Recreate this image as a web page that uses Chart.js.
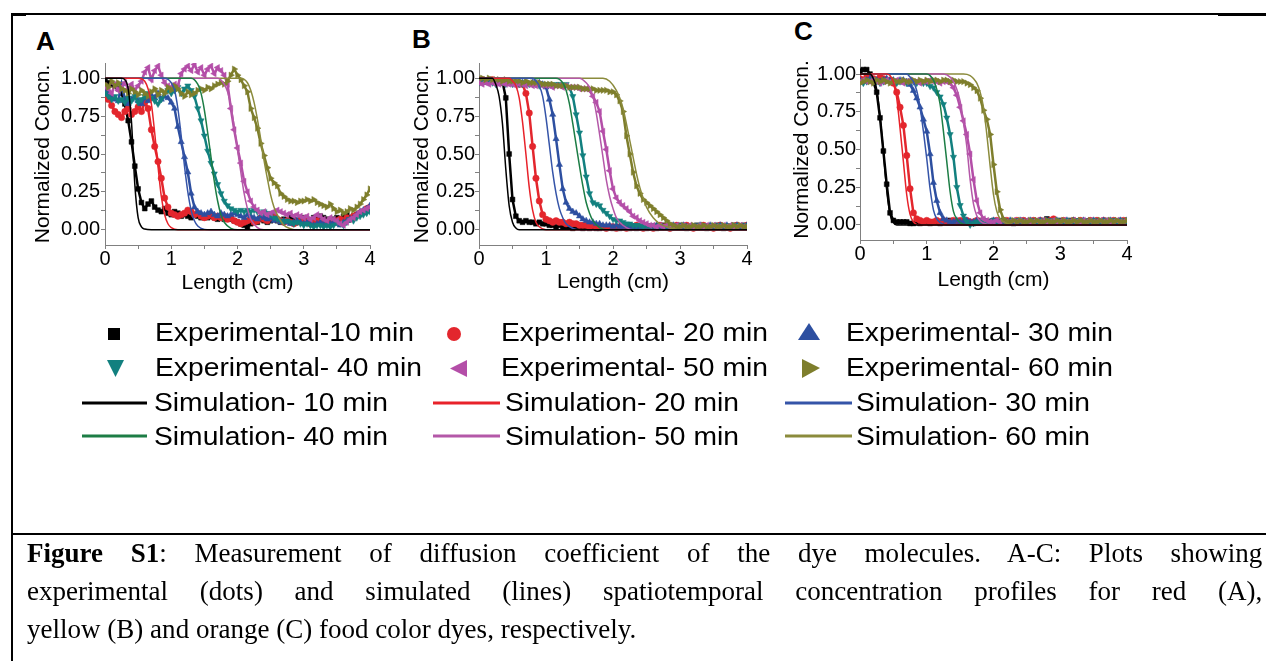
<!DOCTYPE html>
<html>
<head>
<meta charset="utf-8">
<script src="https://cdn.jsdelivr.net/npm/chart.js@4.4.1/dist/chart.umd.min.js"></script>
<style>
  html, body { margin: 0; padding: 0; background: #fff; }
  body { width: 1266px; height: 661px; position: relative; overflow: hidden; font-family: 'Liberation Sans', Arial, sans-serif; }
  canvas { position: absolute; }
  .linea { position: absolute; background: #000; }
  .panel { position: absolute; font-weight: bold; font-size: 26px; line-height: 1; }
  .leg { position: absolute; font-size: 25px; line-height: 1; white-space: nowrap; transform: scaleX(1.13); transform-origin: 0 0; }
  #caption { position: absolute; left: 27px; top: 534px; width: 1211px; font-family: 'Liberation Serif', 'Times New Roman', serif; font-size: 26.5px; line-height: 38px; transform: scaleX(1.02); transform-origin: 0 0; }
  #caption .j { text-align: justify; text-align-last: justify; }
  svg { position: absolute; left: 0; top: 0; }
</style>
</head>
<body>
<div class="linea" style="left:12px;top:13px;width:1254px;height:2px"></div>
<div class="linea" style="left:12px;top:13px;width:14px;height:3px"></div>
<div class="linea" style="left:1218px;top:14px;width:48px;height:2px"></div>
<div class="linea" style="left:11px;top:13px;width:2px;height:648px"></div>
<div class="linea" style="left:12px;top:533px;width:1254px;height:2px"></div>

<div class="panel" style="left:36px;top:28px">A</div>
<div class="panel" style="left:412px;top:26px">B</div>
<div class="panel" style="left:794px;top:18px">C</div>

<canvas id="chartA" width="365" height="280" style="left:20px;top:20px"></canvas>
<canvas id="chartB" width="362" height="280" style="left:400px;top:20px"></canvas>
<canvas id="chartC" width="362" height="280" style="left:780px;top:16px"></canvas>

<svg id="simbolos" width="1266" height="661"></svg>
<div id="leyenda"></div>

<div id="caption">
  <div class="j"><b>Figure S1</b>: Measurement of diffusion coefficient of the dye molecules. A-C: Plots showing</div>
  <div class="j">experimental (dots) and simulated (lines) spatiotemporal concentration profiles for red (A),</div>
  <div>yellow (B) and orange (C) food color dyes, respectively.</div>
</div>

<script>
// Posiciones (cm) donde se leyeron los puntos experimentales
const lengthCm = [0,0.05,0.1,0.15,0.2,0.25,0.3,0.35,0.4,0.45,
  0.5,0.55,0.6,0.65,0.7,0.75,0.8,0.85,0.9,0.95,
  1,1.05,1.1,1.15,1.2,1.25,1.3,1.35,1.4,1.45,
  1.5,1.55,1.6,1.65,1.7,1.75,1.8,1.85,1.9,1.95,
  2,2.05,2.1,2.15,2.2,2.25,2.3,2.35,2.4,2.45,
  2.5,2.55,2.6,2.65,2.7,2.75,2.8,2.85,2.9,2.95,
  3,3.05,3.1,3.15,3.2,3.25,3.3,3.35,3.4,3.45,
  3.5,3.55,3.6,3.65,3.7,3.75,3.8,3.85,3.9,3.95,
  4];

// marcas de los ejes
const xTicks = [0, 0.5, 1, 1.5, 2, 2.5, 3, 3.5, 4];
const yTicks = [0, 0.125, 0.25, 0.375, 0.5, 0.625, 0.75, 0.875, 1];

const expLabels = ['Experimental-10 min', 'Experimental- 20 min', 'Experimental- 30 min',
  'Experimental- 40 min', 'Experimental- 50 min', 'Experimental- 60 min'];
const simLabels = ['Simulation- 10 min', 'Simulation- 20 min', 'Simulation- 30 min',
  'Simulation- 40 min', 'Simulation- 50 min', 'Simulation- 60 min'];

// ---- A: colorante rojo ----
const expA10 = [0.98,0.97,0.96,0.95,0.93,0.90,0.83,0.72,0.58,0.42,
  0.27,0.18,0.14,0.17,0.19,0.15,0.13,0.12,0.14,0.11,
  0.10,0.12,0.11,0.09,0.10,0.09,0.08,0.10,0.09,0.08,
  0.09,0.08,0.09,0.08,0.07,0.08,0.07,0.08,0.07,0.06,
  0.05,0.04,0.03,0.02,0.04,0.06,0.05,0.07,0.06,0.05,
  0.06,0.07,0.06,0.05,0.07,0.06,0.08,0.07,0.06,0.07,
  0.08,0.07,0.06,0.08,0.07,0.09,0.08,0.07,0.06,0.07,
  0.08,0.07,0.09,0.10,0.08,0.09,0.10,0.11,0.12,0.13,
  0.14];
const expA20 = [0.88,0.86,0.82,0.78,0.76,0.74,0.78,0.80,0.76,0.78,
  0.81,0.78,0.84,0.80,0.66,0.55,0.45,0.34,0.21,0.15,
  0.11,0.10,0.09,0.10,0.11,0.13,0.12,0.10,0.11,0.09,
  0.08,0.09,0.10,0.08,0.09,0.08,0.09,0.07,0.08,0.06,
  0.05,0.04,0.05,0.06,0.07,0.05,0.06,0.08,0.07,0.06,
  0.08,0.09,0.07,0.06,0.05,0.06,0.05,0.04,0.05,0.06,
  0.05,0.06,0.04,0.05,0.06,0.05,0.04,0.05,0.06,0.05,
  0.06,0.07,0.06,0.08,0.07,0.09,0.10,0.11,0.12,0.14,
  0.15];
const expA30 = [0.92,0.90,0.88,0.86,0.85,0.96,0.86,0.83,0.86,0.88,
  0.85,0.83,0.87,0.85,0.89,0.87,0.90,0.86,0.88,0.87,
  0.84,0.80,0.68,0.58,0.48,0.38,0.24,0.15,0.12,0.11,
  0.10,0.11,0.12,0.10,0.09,0.11,0.10,0.09,0.10,0.11,
  0.10,0.09,0.08,0.10,0.09,0.08,0.07,0.09,0.08,0.07,
  0.08,0.06,0.07,0.05,0.06,0.05,0.04,0.05,0.06,0.05,
  0.04,0.05,0.04,0.03,0.04,0.05,0.04,0.03,0.04,0.05,
  0.04,0.03,0.05,0.06,0.07,0.08,0.10,0.12,0.13,0.14,
  0.16];
const expA40 = [0.90,0.88,0.86,0.88,0.85,0.86,0.84,0.87,0.85,0.88,
  0.84,0.86,0.88,0.90,0.87,0.85,0.83,0.86,0.90,0.92,
  0.90,0.92,0.94,0.90,0.93,0.95,0.92,0.88,0.80,0.72,
  0.62,0.52,0.44,0.37,0.30,0.24,0.19,0.16,0.14,0.13,
  0.12,0.13,0.12,0.13,0.12,0.13,0.12,0.11,0.12,0.11,
  0.10,0.08,0.07,0.06,0.05,0.06,0.05,0.04,0.05,0.04,
  0.03,0.04,0.03,0.02,0.03,0.03,0.02,0.03,0.02,0.03,
  0.05,0.04,0.03,0.05,0.07,0.06,0.08,0.09,0.10,0.11,
  0.12];
const expA50 = [0.95,0.93,0.90,0.96,0.92,0.94,0.97,0.93,0.96,0.92,
  0.95,0.98,1.04,1.07,0.99,1.05,1.08,1.02,0.97,0.95,
  0.94,0.96,0.95,1.03,1.06,1.08,1.05,1.09,1.04,1.07,
  1.02,1.06,1.08,1.03,1.07,1.05,1.02,0.96,0.80,0.66,
  0.54,0.44,0.32,0.25,0.19,0.15,0.13,0.11,0.12,0.10,
  0.11,0.12,0.13,0.12,0.11,0.10,0.11,0.09,0.10,0.09,
  0.08,0.09,0.07,0.08,0.10,0.09,0.07,0.06,0.08,0.07,
  0.06,0.04,0.03,0.05,0.07,0.08,0.10,0.12,0.13,0.14,
  0.15];
const expA60 = [0.96,0.94,0.98,0.95,0.97,0.93,0.92,0.90,0.93,0.91,
  0.89,0.92,0.90,0.88,0.91,0.93,0.89,0.92,0.90,0.94,
  0.92,0.95,0.93,0.90,0.88,0.91,0.89,0.90,0.92,0.93,
  0.92,0.94,0.93,0.95,0.96,0.97,0.96,0.98,1.02,1.06,
  1.02,0.99,0.95,0.91,0.80,0.74,0.67,0.57,0.49,0.41,
  0.34,0.31,0.29,0.24,0.22,0.20,0.19,0.19,0.18,0.19,
  0.19,0.20,0.19,0.20,0.18,0.17,0.16,0.15,0.17,0.14,
  0.12,0.13,0.11,0.12,0.14,0.13,0.15,0.17,0.20,0.23,
  0.27];

// curvas simuladas A: pares [cm, conc]
const simA10 = [[0,1],[0.25,1],[0.3,0.99],[0.35,0.93],[0.4,0.71],[0.45,0.3],[0.5,0.08],[0.55,0.02],[0.6,0.005],[0.7,0],[4,0]];
const simA20 = [[0,1],[0.5,1],[0.6,0.98],[0.65,0.93],[0.7,0.83],[0.75,0.64],[0.8,0.42],[0.85,0.22],[0.9,0.1],[0.95,0.04],[1,0.015],[1.1,0],[4,0]];
const simA30 = [[0,1],[0.9,1],[1,0.97],[1.05,0.92],[1.1,0.8],[1.15,0.62],[1.2,0.42],[1.25,0.25],[1.3,0.13],[1.35,0.06],[1.4,0.025],[1.5,0.003],[1.6,0],[4,0]];
const simA40 = [[0,1],[1.3,1],[1.4,0.96],[1.45,0.9],[1.5,0.79],[1.55,0.64],[1.6,0.48],[1.65,0.32],[1.7,0.19],[1.75,0.1],[1.8,0.05],[1.9,0.01],[2,0],[4,0]];
const simA50 = [[0,1],[1.7,1],[1.8,0.96],[1.85,0.91],[1.9,0.82],[1.95,0.68],[2,0.53],[2.05,0.38],[2.1,0.24],[2.15,0.14],[2.2,0.07],[2.3,0.015],[2.4,0],[4,0]];
const simA60 = [[0,1],[2.05,1],[2.15,0.97],[2.2,0.92],[2.25,0.84],[2.3,0.73],[2.35,0.6],[2.4,0.46],[2.45,0.34],[2.5,0.23],[2.55,0.15],[2.6,0.1],[2.7,0.03],[2.8,0.008],[2.9,0],[4,0]];

// ---- B: colorante amarillo ----
const expB10 = [0.99,0.99,0.98,0.99,0.98,0.98,0.97,0.98,0.87,0.50,
  0.20,0.09,0.06,0.05,0.06,0.05,0.05,0.04,0.05,0.04,
  0.04,0.03,0.03,0.02,0.03,0.02,0.02,0.02,0.01,0.02,
  0.02,0.01,0.02,0.01,0.02,0.01,0.01,0.02,0.01,0.02,
  0.01,0.02,0.01,0.02,0.02,0.01,0.02,0.01,0.02,0.02,
  0.01,0.02,0.02,0.01,0.02,0.03,0.02,0.01,0.02,0.02,
  0.03,0.02,0.01,0.02,0.02,0.03,0.02,0.02,0.01,0.02,
  0.02,0.03,0.02,0.01,0.02,0.02,0.03,0.02,0.02,0.03,
  0.02];
const expB20 = [0.98,0.99,0.98,0.98,0.99,0.98,0.98,0.97,0.98,0.97,
  0.97,0.97,0.96,0.96,0.90,0.77,0.55,0.34,0.19,0.10,
  0.07,0.06,0.05,0.06,0.05,0.05,0.04,0.05,0.04,0.04,
  0.03,0.03,0.03,0.02,0.03,0.02,0.02,0.02,0.01,0.02,
  0.02,0.01,0.02,0.02,0.01,0.02,0.02,0.03,0.02,0.01,
  0.02,0.02,0.01,0.02,0.03,0.02,0.02,0.01,0.02,0.03,
  0.02,0.02,0.03,0.02,0.01,0.02,0.02,0.03,0.02,0.02,
  0.01,0.02,0.03,0.02,0.02,0.01,0.02,0.03,0.02,0.02,
  0.03];
const expB30 = [0.98,0.98,0.97,0.98,0.98,0.97,0.98,0.97,0.97,0.98,
  0.97,0.97,0.98,0.97,0.97,0.96,0.97,0.97,0.97,0.96,
  0.94,0.86,0.76,0.60,0.43,0.27,0.18,0.14,0.12,0.11,
  0.09,0.07,0.06,0.05,0.05,0.04,0.04,0.03,0.03,0.03,
  0.02,0.03,0.02,0.02,0.03,0.02,0.02,0.01,0.02,0.02,
  0.03,0.02,0.02,0.03,0.02,0.01,0.02,0.02,0.03,0.02,
  0.02,0.03,0.02,0.02,0.01,0.02,0.03,0.02,0.02,0.03,
  0.02,0.02,0.03,0.02,0.03,0.02,0.02,0.03,0.02,0.02,
  0.03];
const expB40 = [0.97,0.97,0.98,0.97,0.97,0.96,0.97,0.97,0.96,0.97,
  0.96,0.97,0.96,0.96,0.97,0.96,0.96,0.96,0.95,0.96,
  0.96,0.96,0.95,0.96,0.96,0.95,0.96,0.94,0.88,0.76,
  0.64,0.49,0.35,0.24,0.18,0.17,0.16,0.13,0.11,0.09,
  0.07,0.06,0.06,0.05,0.04,0.04,0.03,0.03,0.03,0.02,
  0.03,0.02,0.03,0.02,0.03,0.02,0.02,0.03,0.02,0.03,
  0.02,0.03,0.02,0.02,0.03,0.02,0.03,0.03,0.02,0.02,
  0.03,0.02,0.03,0.03,0.02,0.03,0.02,0.03,0.03,0.02,
  0.03];
const expB50 = [0.97,0.96,0.97,0.96,0.97,0.96,0.96,0.97,0.96,0.96,
  0.96,0.95,0.96,0.96,0.95,0.96,0.95,0.95,0.96,0.95,
  0.95,0.95,0.94,0.95,0.95,0.94,0.95,0.94,0.94,0.94,
  0.93,0.93,0.93,0.92,0.88,0.84,0.78,0.65,0.53,0.39,
  0.27,0.21,0.18,0.16,0.14,0.12,0.09,0.08,0.06,0.05,
  0.04,0.03,0.03,0.02,0.03,0.02,0.03,0.02,0.02,0.03,
  0.02,0.03,0.02,0.03,0.02,0.02,0.03,0.02,0.03,0.02,
  0.03,0.02,0.02,0.03,0.02,0.03,0.02,0.02,0.03,0.02,
  0.02];
const expB60 = [1.00,1.00,0.99,1.00,0.99,0.99,0.99,0.98,0.99,0.98,
  0.98,0.98,0.98,0.97,0.98,0.97,0.97,0.97,0.97,0.96,
  0.96,0.96,0.96,0.95,0.95,0.95,0.95,0.94,0.94,0.94,
  0.94,0.93,0.93,0.93,0.93,0.92,0.92,0.92,0.92,0.91,
  0.91,0.89,0.85,0.78,0.62,0.50,0.38,0.29,0.24,0.20,
  0.18,0.16,0.14,0.12,0.10,0.08,0.06,0.04,0.03,0.02,
  0.02,0.03,0.02,0.02,0.03,0.02,0.02,0.03,0.02,0.02,
  0.03,0.02,0.02,0.03,0.02,0.02,0.03,0.02,0.03,0.02,
  0.02];

const simB10 = [[0,1],[0.2,1],[0.25,0.96],[0.3,0.88],[0.35,0.7],[0.4,0.4],[0.45,0.16],[0.5,0.05],[0.55,0.012],[0.6,0],[4,0]];
const simB20 = [[0,1],[0.45,1],[0.5,0.98],[0.55,0.95],[0.6,0.87],[0.65,0.71],[0.7,0.5],[0.75,0.28],[0.8,0.13],[0.85,0.05],[0.9,0.02],[1,0],[4,0]];
const simB30 = [[0,1],[0.8,1],[0.85,0.98],[0.9,0.95],[0.95,0.88],[1,0.74],[1.05,0.56],[1.1,0.38],[1.15,0.24],[1.2,0.14],[1.25,0.08],[1.3,0.04],[1.4,0.01],[1.5,0],[4,0]];
const simB40 = [[0,1],[1.15,1],[1.25,0.97],[1.3,0.92],[1.35,0.83],[1.4,0.7],[1.45,0.56],[1.5,0.42],[1.55,0.29],[1.6,0.18],[1.65,0.11],[1.7,0.06],[1.8,0.015],[1.9,0],[4,0]];
const simB50 = [[0,1],[1.5,1],[1.6,0.97],[1.65,0.94],[1.7,0.88],[1.75,0.77],[1.8,0.63],[1.85,0.48],[1.9,0.33],[1.95,0.22],[2,0.14],[2.05,0.08],[2.1,0.05],[2.2,0.015],[2.3,0],[4,0]];
const simB60 = [[0,1],[1.85,1],[1.95,0.98],[2.05,0.92],[2.1,0.87],[2.15,0.8],[2.2,0.7],[2.25,0.59],[2.3,0.48],[2.35,0.37],[2.4,0.28],[2.45,0.21],[2.5,0.15],[2.6,0.08],[2.7,0.04],[2.8,0.02],[3,0],[4,0]];

// ---- C: colorante naranja ----
const expC10 = [1.02,1.03,1.03,1.00,0.95,0.88,0.71,0.49,0.27,0.08,
  0.03,0.02,0.02,0.02,0.02,0.01,0.01,0.02,0.01,0.02,
  0.02,0.01,0.02,0.02,0.01,0.02,0.02,0.03,0.02,0.02,
  0.02,0.03,0.02,0.02,0.01,0.02,0.03,0.02,0.02,0.02,
  0.03,0.02,0.02,0.03,0.02,0.02,0.01,0.02,0.02,0.03,
  0.02,0.02,0.03,0.02,0.02,0.03,0.04,0.03,0.02,0.02,
  0.03,0.02,0.02,0.03,0.02,0.02,0.03,0.02,0.02,0.03,
  0.02,0.03,0.02,0.02,0.03,0.02,0.03,0.02,0.03,0.02,
  0.03];
const expC20 = [0.97,0.96,0.98,0.97,0.97,0.96,0.98,0.97,0.96,0.96,
  0.94,0.88,0.78,0.66,0.46,0.24,0.08,0.04,0.03,0.02,
  0.03,0.02,0.02,0.03,0.02,0.03,0.02,0.02,0.03,0.02,
  0.03,0.02,0.03,0.02,0.02,0.03,0.02,0.03,0.02,0.02,
  0.02,0.03,0.02,0.02,0.03,0.02,0.02,0.03,0.02,0.03,
  0.02,0.02,0.03,0.02,0.03,0.02,0.02,0.03,0.04,0.02,
  0.02,0.03,0.02,0.02,0.03,0.02,0.03,0.02,0.02,0.03,
  0.02,0.03,0.02,0.03,0.02,0.02,0.03,0.02,0.02,0.03,
  0.02];
const expC30 = [0.96,0.95,0.96,0.97,0.96,0.96,0.95,0.96,0.97,0.96,
  0.96,0.95,0.96,0.96,0.95,0.93,0.89,0.84,0.78,0.70,
  0.62,0.47,0.28,0.16,0.08,0.04,0.03,0.02,0.02,0.03,
  0.02,0.02,0.03,0.02,0.02,0.03,0.02,0.03,0.02,0.02,
  0.03,0.02,0.02,0.03,0.02,0.03,0.02,0.02,0.03,0.02,
  0.02,0.03,0.02,0.02,0.03,0.02,0.03,0.02,0.02,0.03,
  0.02,0.02,0.03,0.02,0.03,0.02,0.02,0.03,0.02,0.02,
  0.03,0.02,0.02,0.03,0.02,0.03,0.02,0.02,0.03,0.02,
  0.03];
const expC40 = [0.95,0.94,0.95,0.96,0.95,0.95,0.94,0.95,0.96,0.95,
  0.95,0.94,0.95,0.95,0.94,0.95,0.95,0.94,0.95,0.94,
  0.94,0.92,0.91,0.88,0.85,0.80,0.71,0.60,0.45,0.25,
  0.13,0.06,0.02,0.00,0.01,0.02,0.02,0.03,0.02,0.02,
  0.03,0.02,0.02,0.03,0.02,0.02,0.03,0.02,0.03,0.02,
  0.02,0.03,0.02,0.02,0.03,0.02,0.02,0.03,0.02,0.03,
  0.02,0.02,0.03,0.02,0.02,0.03,0.02,0.03,0.02,0.02,
  0.03,0.02,0.02,0.03,0.02,0.02,0.03,0.02,0.03,0.02,
  0.02];
const expC50 = [0.95,0.96,0.95,0.95,0.96,0.95,0.94,0.95,0.96,0.95,
  0.95,0.96,0.95,0.94,0.95,0.96,0.95,0.95,0.94,0.95,
  0.95,0.96,0.95,0.95,0.94,0.95,0.95,0.94,0.91,0.86,
  0.78,0.69,0.60,0.47,0.30,0.16,0.08,0.04,0.03,0.02,
  0.02,0.03,0.02,0.03,0.02,0.02,0.03,0.02,0.03,0.02,
  0.03,0.02,0.02,0.03,0.02,0.03,0.02,0.02,0.03,0.02,
  0.02,0.03,0.02,0.02,0.03,0.02,0.02,0.03,0.02,0.03,
  0.02,0.02,0.03,0.02,0.03,0.02,0.02,0.03,0.02,0.02,
  0.03];
const expC60 = [0.94,0.95,0.96,0.95,0.94,0.96,0.95,0.96,0.95,0.94,
  0.96,0.95,0.95,0.96,0.95,0.95,0.96,0.95,0.96,0.95,
  0.96,0.95,0.96,0.96,0.95,0.96,0.96,0.95,0.96,0.95,
  0.95,0.95,0.94,0.93,0.91,0.89,0.84,0.76,0.70,0.60,
  0.40,0.22,0.10,0.04,0.02,0.02,0.03,0.02,0.03,0.02,
  0.02,0.03,0.02,0.03,0.02,0.02,0.03,0.02,0.02,0.03,
  0.02,0.03,0.02,0.02,0.03,0.02,0.03,0.02,0.02,0.03,
  0.02,0.02,0.03,0.02,0.02,0.03,0.02,0.03,0.02,0.02,
  0.03];

const simC10 = [[0,1],[0.15,1],[0.2,0.97],[0.25,0.9],[0.3,0.72],[0.35,0.49],[0.4,0.23],[0.45,0.07],[0.5,0.015],[0.55,0],[4,0]];
const simC20 = [[0,1],[0.4,1],[0.45,0.99],[0.5,0.95],[0.55,0.84],[0.6,0.64],[0.65,0.42],[0.7,0.2],[0.75,0.07],[0.8,0.02],[0.9,0],[4,0]];
const simC30 = [[0,1],[0.7,1],[0.75,0.98],[0.8,0.95],[0.85,0.89],[0.9,0.78],[0.95,0.62],[1,0.44],[1.05,0.24],[1.1,0.1],[1.15,0.04],[1.2,0.015],[1.3,0],[4,0]];
const simC40 = [[0,1],[1,1],[1.05,0.99],[1.1,0.96],[1.15,0.9],[1.2,0.8],[1.25,0.62],[1.3,0.42],[1.35,0.22],[1.4,0.09],[1.45,0.04],[1.5,0.015],[1.6,0],[4,0]];
const simC50 = [[0,1],[1.25,1],[1.35,0.98],[1.4,0.95],[1.45,0.9],[1.5,0.82],[1.55,0.68],[1.6,0.52],[1.65,0.3],[1.7,0.14],[1.75,0.06],[1.8,0.025],[1.9,0.005],[2,0],[4,0]];
const simC60 = [[0,1],[1.55,1],[1.65,0.99],[1.7,0.97],[1.75,0.94],[1.8,0.88],[1.85,0.78],[1.9,0.6],[1.95,0.39],[2,0.2],[2.05,0.09],[2.1,0.04],[2.2,0.01],[2.3,0],[4,0]];

// estilos de las series
const expColors = ['#000000', '#e3262d', '#2d4fa0', '#12807f', '#b44ea8', '#7e7e2c'];
const simColors = ['#000000', '#e8222a', '#3554a8', '#1c7d45', '#b458a8', '#8b8b3c'];
const markerStyles = ['rect', 'circle', 'triangle', 'triangle', 'triangle', 'triangle'];
const markerRotation = [0, 0, 0, 180, 270, 90];
const markerSize = [3.4, 3.2, 3.6, 3.6, 3.6, 3.6];

Chart.defaults.font.family = "'Liberation Sans', Arial, sans-serif";
Chart.defaults.color = '#000';

const crearGrafico = (id, expSeries, simSeries, caja) => {
  const ctx = document.getElementById(id).getContext('2d');
  const datasets = [];

  simSeries.forEach((serie, k) => {
    datasets.push({
      label: simLabels[k],
      data: serie.map(([x, y]) => ({ x, y })),
      borderColor: simColors[k],
      borderWidth: 1.5,
      pointRadius: 0,
      cubicInterpolationMode: 'monotone',
      fill: false,
      order: 0,
    });
  });

  expSeries.forEach((serie, k) => {
    datasets.push({
      label: expLabels[k],
      data: lengthCm.map((x, i) => ({ x, y: serie[i] })),
      showLine: true,
      borderColor: expColors[k],
      backgroundColor: expColors[k],
      borderWidth: 2.5,
      pointStyle: markerStyles[k],
      pointRotation: markerRotation[k],
      pointRadius: markerSize[k],
      pointBorderWidth: 0.5,
      pointBorderColor: expColors[k],
      tension: 0,
      order: 6 - k, // el de 60 min queda encima
    });
  });

  const chartConfig = {
    type: 'line',
    data: { datasets },
    options: {
      responsive: false,
      animation: false,
      devicePixelRatio: 1,
      layout: { padding: { top: caja.top, right: 15, left: 0, bottom: 0 } },
      plugins: { legend: { display: false }, tooltip: { enabled: false } },
      scales: {
        x: {
          type: 'linear',
          min: 0,
          max: 4,
          ticks: {
            autoSkip: false,
            maxRotation: 0,
            padding: 0,
            color: '#000',
            font: { size: 20, lineHeight: 1 },
            callback: (v) => (Number.isInteger(v) ? String(v) : ''),
          },
          afterBuildTicks: (s) => { s.ticks = xTicks.map((value) => ({ value })); },
          grid: { drawOnChartArea: false, drawTicks: true, tickLength: 4, color: '#808080' },
          border: { color: '#808080', width: 1 },
          title: { display: true, text: 'Length (cm)', color: '#000', font: { size: 21 }, padding: { top: 0, bottom: caja.xTitle } },
          afterFit: (s) => { s.height = caja.xh; },
        },
        y: {
          min: -0.1,
          max: 1.1,
          ticks: {
            autoSkip: false,
            padding: caja.yTick,
            color: '#000',
            font: { size: 20 },
            callback: (v) => (Math.abs(v * 4 - Math.round(v * 4)) < 1e-6 ? v.toFixed(2) : ''),
          },
          afterBuildTicks: (s) => { s.ticks = yTicks.map((value) => ({ value })); },
          grid: { drawOnChartArea: false, drawTicks: true, tickLength: 4, color: '#808080' },
          border: { color: '#808080', width: 1 },
          title: { display: true, text: 'Normalized Concn.', color: '#000', font: { size: 21 }, padding: { top: caja.yTitle, bottom: 0 } },
          afterFit: (s) => { s.width = caja.yw; },
        },
      },
    },
  };

  return new Chart(ctx, chartConfig);
};

crearGrafico('chartA', [expA10, expA20, expA30, expA40, expA50, expA60],
  [simA10, simA20, simA30, simA40, simA50, simA60],
  { top: 43, yw: 85, xh: 55, yTitle: 10.4, xTitle: 4.4, yTick: 1 });
crearGrafico('chartB', [expB10, expB20, expB30, expB40, expB50, expB60],
  [simB10, simB20, simB30, simB40, simB50, simB60],
  { top: 43, yw: 79, xh: 55, yTitle: 9.4, xTitle: 4.9, yTick: 0 });
crearGrafico('chartC', [expC10, expC20, expC30, expC40, expC50, expC60],
  [simC10, simC20, simC30, simC40, simC50, simC60],
  { top: 43, yw: 80, xh: 56, yTitle: 9.4, xTitle: 3.4, yTick: 0 });

// Leyenda comun debajo de los tres graficos
const svgNS = 'http://www.w3.org/2000/svg';
const simbolos = document.getElementById('simbolos');
const addSvg = (tag, attrs) => {
  const el = document.createElementNS(svgNS, tag);
  Object.entries(attrs).forEach(([k, v]) => el.setAttribute(k, v));
  simbolos.appendChild(el);
};
addSvg('rect', { x: 108, y: 328, width: 12, height: 12, fill: expColors[0] });
addSvg('circle', { cx: 454, cy: 334, r: 7, fill: expColors[1] });
addSvg('polygon', { points: '809,323 798,340 820,340', fill: expColors[2] });
addSvg('polygon', { points: '107,360 124,360 115.5,377', fill: expColors[3] });
addSvg('polygon', { points: '450,368.5 467,360 467,377', fill: expColors[4] });
addSvg('polygon', { points: '820,368 802,359 802,378', fill: expColors[5] });

const lineaX = [[82, 147], [433, 500], [785, 852]];
const lineaY = [403, 436];
simColors.forEach((c, k) => {
  const [x1, x2] = lineaX[k % 3];
  const y = lineaY[Math.floor(k / 3)];
  addSvg('line', { x1, x2, y1: y, y2: y, stroke: c, 'stroke-width': 3 });
});

const leyenda = document.getElementById('leyenda');
const expLeft = [155, 501, 846];
const simLeft = [154, 505, 856];
const filaTop = [320, 355, 390, 424];
const addTexto = (txt, left, top) => {
  const d = document.createElement('div');
  d.className = 'leg';
  d.style.left = left + 'px';
  d.style.top = top + 'px';
  d.textContent = txt;
  leyenda.appendChild(d);
};
expLabels.forEach((t, k) => addTexto(t, expLeft[k % 3], filaTop[Math.floor(k / 3)]));
simLabels.forEach((t, k) => addTexto(t, simLeft[k % 3], filaTop[2 + Math.floor(k / 3)]));
</script>
</body>
</html>
